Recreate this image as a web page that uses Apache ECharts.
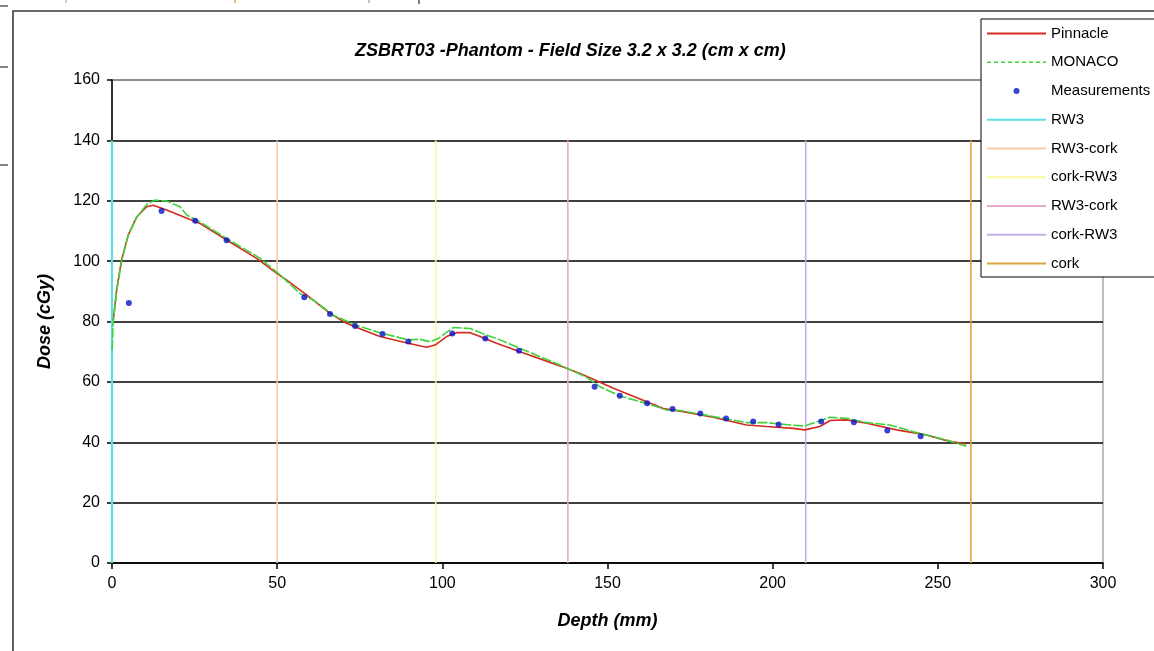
<!DOCTYPE html>
<html>
<head>
<meta charset="utf-8">
<script src="https://cdn.jsdelivr.net/npm/echarts@6/dist/echarts.min.js"></script>
<style>
  html, body { margin: 0; padding: 0; background: #fff; }
  #chart { width: 1154px; height: 651px; }
</style>
</head>
<body>
<div id="chart"></div>
<script>
// ---- Data ----
const titleText = 'ZSBRT03 -Phantom - Field Size 3.2 x 3.2 (cm x cm)';
const xAxisName = 'Depth (mm)';
const yAxisName = 'Dose (cGy)';
const xTicks = [0, 50, 100, 150, 200, 250, 300];
const yTicks = [0, 20, 40, 60, 80, 100, 120, 140, 160];

// [depth (mm), dose (cGy)]
const pinnacle = [
  [0.4, 80.5], [1.4, 90.4], [2.9, 100.4], [4.9, 108.6], [7.5, 114.7], [10.5, 118], [12.5, 118.5],
  [16.5, 116.9], [21.6, 114.7], [26.6, 112.5], [34.7, 107], [43.8, 100.9], [49.8, 96], [52.9, 93.7],
  [58.9, 88.8], [66, 82.7], [71, 79.4], [76, 77.2], [81.1, 75.0], [89.7, 72.8], [95.2, 71.5],
  [97.8, 72.2], [101.3, 75.0], [104.3, 76.3], [108.4, 76.3], [111.4, 75.0], [116.4, 72.8],
  [123.5, 70], [135.6, 65.3], [141.7, 62.8], [146.7, 60.4], [151.8, 57.9], [161.9, 53.4],
  [166.9, 51.2], [172, 50.3], [182, 48.3], [192.1, 45.7], [198.2, 45.2], [206.2, 44.6],
  [209.8, 44.1], [214.3, 45.2], [217.4, 47.2], [222.4, 47.4], [228.5, 46.3], [237.5, 44.1],
  [246.6, 42.4], [252.7, 40.5], [258.7, 39.4]
];
const monaco = [
  [0, 70.5], [0.4, 80.5], [1.4, 90], [2.9, 100], [4.9, 108.5], [7.5, 114.5], [10.5, 118.8],
  [13, 120.2], [16.5, 119.9], [20.6, 118], [22.6, 115.3], [26.6, 113], [34.7, 107.5], [44.8, 101],
  [50.9, 95.4], [56.9, 89.3], [61, 87.1], [67, 82.1], [74, 78.7], [81.1, 76.3], [89.7, 73.9],
  [93.2, 74.1], [96.3, 73.3], [98.8, 74.4], [103.3, 78.0], [108.4, 77.7], [112.4, 75.9],
  [116.4, 74.4], [123.5, 71.1], [135.6, 65.6], [143.7, 61.5], [147.7, 58.4], [153.8, 55.3],
  [161.9, 52.8], [167.9, 50.7], [172, 50.5], [182, 48.5], [192.1, 46.5], [198.2, 46.5],
  [205.3, 45.7], [209.8, 45.4], [214.3, 47.1], [217.4, 48.3], [222.4, 47.9], [228.5, 46.5],
  [235.5, 45.7], [242.6, 43.5], [252.7, 40.7], [259.2, 38.5]
];
const measurements = [
  [5.1, 86.1], [15.0, 116.6], [25.2, 113.4], [34.7, 106.9], [58.2, 88.0], [66, 82.5], [73.6, 78.5],
  [81.9, 75.9], [89.7, 73.4], [103, 76.0], [113, 74.4], [123.2, 70.3], [146.1, 58.4], [153.7, 55.4],
  [162, 52.9], [169.7, 51.0], [178.1, 49.5], [185.9, 47.9], [194.1, 46.9], [201.8, 45.9],
  [214.7, 46.9], [224.6, 46.6], [234.7, 43.9], [244.8, 42.0]
];
// interface lines: name, depth, top dose
const interfaceNames = ['RW3', 'RW3-cork', 'cork-RW3', 'RW3-cork\u200b', 'cork-RW3\u200b', 'cork'];
const interfaceDepths = [0, 50, 98, 138, 210, 260];
const interfaceTop = 140;
const interfaceColors = ['#5fe0e6', '#f3cca6', '#fbf7a0', '#eaa9cf', '#c5b0e6', '#e0a43c'];

// ---- Chart ----
const FONT = 'Liberation Sans, Arial, sans-serif';
const chart = echarts.init(document.getElementById('chart'), null, { renderer: 'canvas' });

const interfaceSeries = interfaceNames.map((n, i) => ({
  name: n,
  type: 'line',
  symbol: 'none',
  silent: true,
  z: 1,
  lineStyle: { color: interfaceColors[i], width: i === 0 ? 2.2 : 1.6 },
  itemStyle: { color: interfaceColors[i] },
  data: [[interfaceDepths[i], 0], [interfaceDepths[i], interfaceTop]]
}));

const legendNames = ['Pinnacle', 'MONACO', 'Measurements'].concat(interfaceNames);

const option = {
  backgroundColor: '#ffffff',
  animation: false,
  title: {
    text: titleText,
    left: 350,
    top: 37,
    textStyle: { fontFamily: FONT, fontSize: 18, fontStyle: 'italic', fontWeight: 'bold', color: '#000' }
  },
  grid: {
    left: 112, top: 80, width: 991, height: 483,
    show: true, borderColor: '#808080', borderWidth: 1, backgroundColor: '#fff'
  },
  legend: {
    orient: 'vertical',
    left: 986,
    top: 26,
    padding: 0,
    itemWidth: 59,
    itemHeight: 6,
    itemGap: 13.75,
    z: 20,
    selectedMode: false,
    textStyle: { fontFamily: FONT, fontSize: 15, color: '#000', lineHeight: 15 },
    formatter: n => n.replace('\u200b', ''),
    data: legendNames.map(n => {
      if (n === 'MONACO') return { name: n, lineStyle: { type: [4, 3], width: 1.6 }, itemStyle: { opacity: 0 } };
      if (n === 'Measurements') return { name: n, icon: 'circle' };
      return { name: n, itemStyle: { opacity: 0 } };
    })
  },
  xAxis: {
    type: 'value',
    min: 0, max: 300, interval: 50,
    name: xAxisName,
    nameLocation: 'middle',
    nameGap: 49,
    nameTextStyle: { fontFamily: FONT, fontSize: 18, fontStyle: 'italic', fontWeight: 'bold', color: '#000' },
    axisLine: { show: true, onZero: false, lineStyle: { color: '#000', width: 1.5 } },
    axisTick: { show: true, inside: false, length: 6, lineStyle: { color: '#000', width: 1.5 } },
    axisLabel: {
      fontFamily: FONT, fontSize: 16, color: '#000', margin: 13,
      formatter: v => (xTicks.indexOf(v) >= 0 ? String(v) : '')
    },
    splitLine: { show: false }
  },
  yAxis: {
    type: 'value',
    min: 0, max: 160, interval: 20,
    name: yAxisName,
    nameLocation: 'middle',
    nameRotate: 90,
    nameGap: 58,
    nameTextStyle: { fontFamily: FONT, fontSize: 18, fontStyle: 'italic', fontWeight: 'bold', color: '#000' },
    axisLine: { show: true, lineStyle: { color: '#000', width: 1.5 } },
    axisTick: { show: true, inside: false, length: 5, lineStyle: { color: '#000', width: 1.5 } },
    axisLabel: {
      fontFamily: FONT, fontSize: 16, color: '#000', margin: 12,
      formatter: v => (yTicks.indexOf(v) >= 0 ? String(v) : '')
    },
    splitLine: {
      show: true,
      lineStyle: {
        color: ['#000', '#000', '#000', '#000', '#000', '#000', '#000', '#000', '#808080'],
        width: 1.5
      }
    }
  },
  graphic: [
    { type: 'rect', z: -10, silent: true, shape: { x: 13, y: 11, width: 1200, height: 700 },
      style: { fill: 'none', stroke: '#3a3a3a', lineWidth: 1.6 } },
    { type: 'line', silent: true, shape: { x1: 0, y1: 6, x2: 8, y2: 6 }, style: { stroke: '#333', lineWidth: 1.2 } },
    { type: 'line', silent: true, shape: { x1: 0, y1: 67, x2: 8, y2: 67 }, style: { stroke: '#333', lineWidth: 1.2 } },
    { type: 'line', silent: true, shape: { x1: 0, y1: 165, x2: 8, y2: 165 }, style: { stroke: '#333', lineWidth: 1.2 } },
    { type: 'line', silent: true, shape: { x1: 66, y1: 0, x2: 66, y2: 3 }, style: { stroke: '#c5b0e6', lineWidth: 1.5 } },
    { type: 'line', silent: true, shape: { x1: 235, y1: 0, x2: 235, y2: 3 }, style: { stroke: '#e0a43c', lineWidth: 1.5 } },
    { type: 'line', silent: true, shape: { x1: 369, y1: 0, x2: 369, y2: 3 }, style: { stroke: '#999', lineWidth: 1.2 } },
    { type: 'line', silent: true, shape: { x1: 419, y1: 0, x2: 419, y2: 4 }, style: { stroke: '#222', lineWidth: 1.2 } },
    { type: 'rect', z: 15, silent: true, shape: { x: 981, y: 19, width: 200, height: 258 },
      style: { fill: '#fff', stroke: '#000', lineWidth: 1 } }
  ],
  series: [
    {
      name: 'Pinnacle', type: 'line', symbol: 'none', z: 3,
      lineStyle: { color: '#d42a20', width: 1.6 }, itemStyle: { color: '#d42a20' },
      data: pinnacle
    },
    {
      name: 'MONACO', type: 'line', symbol: 'none', z: 4,
      lineStyle: { color: '#3fd23a', width: 1.6, type: [10, 2] }, itemStyle: { color: '#3fd23a' },
      data: monaco
    },
    {
      name: 'Measurements', type: 'scatter', symbol: 'circle', symbolSize: 6, z: 5,
      itemStyle: { color: '#0a14c8' },
      data: measurements
    }
  ].concat(interfaceSeries)
};

chart.setOption(option);
</script>
</body>
</html>
